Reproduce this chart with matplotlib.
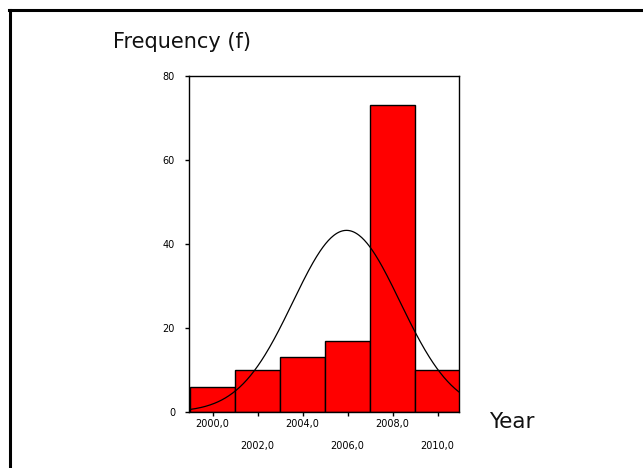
import numpy as np
import matplotlib
matplotlib.use("Agg")
import matplotlib.pyplot as plt
from matplotlib.lines import Line2D

# Data
bin_centers = [2000, 2002, 2004, 2006, 2008, 2010]
counts = [6, 10, 13, 17, 73, 10]
bin_width = 2.0
fit_mean = 2005.95
fit_sd = 2.38
major_ticks = [2000, 2004, 2008]
major_labels = ["2000,0", "2004,0", "2008,0"]
minor_ticks = [2002, 2006, 2010]
minor_labels = ["2002,0", "2006,0", "2010,0"]
y_ticks = [0, 20, 40, 60, 80]

fig = plt.figure(figsize=(6.43, 4.68), dpi=100)
ax = fig.add_axes([189/643, 1-412/468, 270/643, 336/468])

ax.bar(bin_centers, counts, width=bin_width, color="#FF0000",
       edgecolor="black", linewidth=1.0, align="center", zorder=2)

n = sum(counts)
xs = np.linspace(1999, 2011, 300)
ys = n * bin_width / (fit_sd * np.sqrt(2*np.pi)) * np.exp(-0.5*((xs-fit_mean)/fit_sd)**2)
ax.plot(xs, ys, color="black", linewidth=0.9, zorder=3)

ax.set_xlim(1998.95, 2010.95)
ax.set_ylim(0, 80)
ax.set_yticks(y_ticks)
ax.set_yticklabels([str(v) for v in y_ticks], fontsize=7)
ax.set_xticks(major_ticks)
ax.set_xticklabels(major_labels, fontsize=7)
ax.set_xticks(minor_ticks, minor=True)
ax.set_xticklabels(minor_labels, minor=True, fontsize=7)
ax.tick_params(axis="y", direction="out", length=3, pad=7, width=1)
ax.tick_params(axis="x", which="major", direction="out", length=3, pad=2, width=1)
ax.tick_params(axis="x", which="minor", direction="out", length=3, pad=18, width=1)
for s in ax.spines.values():
    s.set_linewidth(1.0)

fig.text(182/643, 1-42/468, "Frequency (f)", fontsize=15, ha="center", va="center", color="#111111")
fig.text(489/643, 1-422/468, "Year", fontsize=15.5, ha="left", va="center", color="#111111")

# Outer frame lines (top and left)
fig.add_artist(Line2D([9/643, 1], [1-10/468, 1-10/468], color="black", linewidth=2.2, transform=fig.transFigure))
fig.add_artist(Line2D([10/643, 10/643], [0, 1-10/468], color="black", linewidth=2.2, transform=fig.transFigure))

fig.savefig("out.png", dpi=100)
